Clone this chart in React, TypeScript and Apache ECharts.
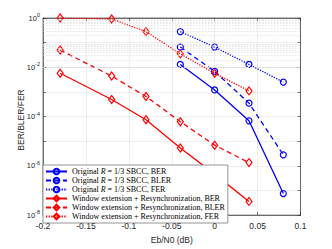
import React, { useEffect, useRef } from "react";
import * as echarts from "echarts";

const xWin = [-0.18, -0.12, -0.08, -0.04, 0, 0.04];
const xOrig = [-0.04, 0, 0.04, 0.08];

const origBER = [0.013, 0.0012, 6.7e-5, 7.5e-8];
const origBLER = [0.066, 0.0068, 3.5e-4, 2.8e-6];
const origFER = [0.28, 0.066, 0.013, 0.0025];

const winBER = [5.7e-3, 4.9e-4, 7.4e-5, 5.3e-6, 4.6e-7, 3.6e-8];
const winBLER = [0.05, 0.0044, 6.5e-4, 6.2e-5, 6.9e-6, 1.35e-6];
const winFER = [1, 0.91, 0.28, 0.035, 0.0057, 0.0011];

const xTicks = [-0.2, -0.15, -0.1, -0.05, 0, 0.05, 0.1];

const BLUE = "#0000ff";
const RED = "#ff0000";
const AX = "#262626";

function pairs(xs: number[], ys: number[]) {
  return xs.map((x, i) => [x, ys[i]]);
}

export default function App() {
  const ref = useRef<HTMLDivElement>(null);
  useEffect(() => {
    if (!ref.current) return;
    const chart = echarts.init(ref.current, undefined, { renderer: "svg" });

    const minorLines: any[] = [];
    for (let k = -8; k <= -1; k++) {
      for (let m = 2; m <= 9; m++) {
        minorLines.push({ yAxis: m * Math.pow(10, k) });
      }
    }

    const mk = (
      name: string,
      xs: number[],
      ys: number[],
      color: string,
      type: any,
      symbol: string,
      size: any
    ) => ({
      name,
      type: "line",
      data: pairs(xs, ys),
      symbol,
      symbolSize: size,
      showSymbol: true,
      lineStyle: { color, width: 1.3, type },
      itemStyle: { color: "rgba(0,0,0,0)", borderColor: color, borderWidth: 1.2 },
      z: 3,
    });

    const names = ["o1", "o2", "o3", "w1", "w2", "w3"];
    const labels: Record<string, string> = {
      o1: "{n|Original }{i|R}{n| = 1/3 SBCC, BER}",
      o2: "{n|Original }{i|R}{n| = 1/3 SBCC, BLER}",
      o3: "{n|Original }{i|R}{n| = 1/3 SBCC, FER}",
      w1: "{n|Window extension + Resynchronization, BER}",
      w2: "{n|Window extension + Resynchronization, BLER}",
      w3: "{n|Window extension + Resynchronization, FER}",
    };

    const axLine = { show: true, onZero: false, lineStyle: { color: AX, width: 0.6 } };
    const axTick = { show: true, inside: true, length: 3, lineStyle: { color: AX, width: 0.6 } };

    const option: any = {
      animation: false,
      backgroundColor: "#ffffff",
      grid: {
        left: 43,
        right: 31.5,
        top: 18,
        bottom: 28,
        show: true,
        borderColor: AX,
        borderWidth: 0.6,
      },
      graphic: [
        {
          type: "text",
          x: 21,
          y: 120,
          rotation: Math.PI / 2,
          style: {
            text: "BER/BLER/FER",
            fontFamily: "Liberation Sans",
            fontSize: 8.5,
            fill: AX,
            align: "center",
            verticalAlign: "middle",
          },
        },
      ],
      legend: {
        data: names,
        orient: "vertical",
        left: 43,
        top: 165,
        z: 20,
        itemWidth: 21,
        itemHeight: 7,
        itemGap: 0,
        padding: [2, 3, 2, 2],
        backgroundColor: "#ffffff",
        borderColor: "#7a7a7a",
        borderWidth: 0.8,
        borderRadius: 0,
        formatter: (n: string) => labels[n],
        textStyle: {
          lineHeight: 9,
          rich: {
            n: { fontFamily: "Liberation Serif", fontSize: 8, color: "#000", lineHeight: 9 },
            i: {
              fontFamily: "Liberation Serif",
              fontSize: 8,
              fontStyle: "italic",
              color: "#000",
              lineHeight: 9,
            },
          },
        },
      },
      xAxis: [
        {
          type: "value",
          min: -0.2,
          max: 0.1,
          interval: 0.05,
          name: "Eb/N0 (dB)",
          nameLocation: "middle",
          nameGap: 17,
          nameTextStyle: { fontFamily: "Liberation Sans", fontSize: 8.5, color: AX },
          axisLine: axLine,
          axisTick: axTick,
          axisLabel: {
            fontFamily: "Liberation Sans",
            fontSize: 8.5,
            color: AX,
            margin: 6,
            formatter: (v: number) => {
              const t = xTicks.find((q) => Math.abs(q - v) < 1e-9);
              return t === undefined ? "" : String(t);
            },
          },
          splitLine: { show: true, lineStyle: { color: "#e3e3e3", width: 0.6 } },
        },
        {
          type: "value",
          position: "top",
          min: -0.2,
          max: 0.1,
          interval: 0.05,
          axisLine: axLine,
          axisTick: axTick,
          axisLabel: { show: false },
          splitLine: { show: false },
        },
      ],
      yAxis: [
        {
          type: "log",
          logBase: 10,
          min: 1e-8,
          max: 1,
          interval: 1,
          axisLine: axLine,
          axisTick: axTick,
          axisLabel: {
            margin: 3,
            formatter: (v: number) => {
              const e = Math.round(Math.log10(v));
              if (e % 2 !== 0) return "";
              return `{b|10}{s|${e}}`;
            },
            rich: {
              b: { fontFamily: "Liberation Sans", fontSize: 7.5, color: AX },
              s: {
                fontFamily: "Liberation Sans",
                fontSize: 5.5,
                color: AX,
                verticalAlign: "bottom",
                padding: [0, 0, 6, 0],
              },
            },
          },
          splitLine: { show: true, lineStyle: { color: "#e3e3e3", width: 0.6 } },
        },
        {
          type: "log",
          logBase: 10,
          min: 1e-8,
          max: 1,
          interval: 1,
          position: "right",
          axisLine: axLine,
          axisTick: axTick,
          axisLabel: { show: false },
          splitLine: { show: false },
        },
      ],
      series: [
        {
          type: "line",
          data: [],
          silent: true,
          z: 1,
          markLine: {
            silent: true,
            symbol: ["none", "none"],
            label: { show: false },
            lineStyle: { color: "#d6d6d6", width: 0.6, type: [1.5, 1.5] },
            data: minorLines,
          },
        },
        mk("o1", xOrig, origBER, BLUE, "solid", "circle", 6),
        mk("o2", xOrig, origBLER, BLUE, [5, 3.5], "circle", 6),
        mk("o3", xOrig, origFER, BLUE, [1.3, 1.3], "circle", 6),
        mk("w1", xWin, winBER, RED, "solid", "diamond", [6, 8]),
        mk("w2", xWin, winBLER, RED, [5, 3.5], "diamond", [6, 8]),
        mk("w3", xWin, winFER, RED, [1.3, 1.3], "diamond", [6, 8]),
      ],
    };
    chart.setOption(option);
    return () => chart.dispose();
  }, []);
  return (
    <div
      ref={ref}
      style={{ position: "absolute", left: 0, top: 0, width: 332, height: 249 }}
    />
  );
}
